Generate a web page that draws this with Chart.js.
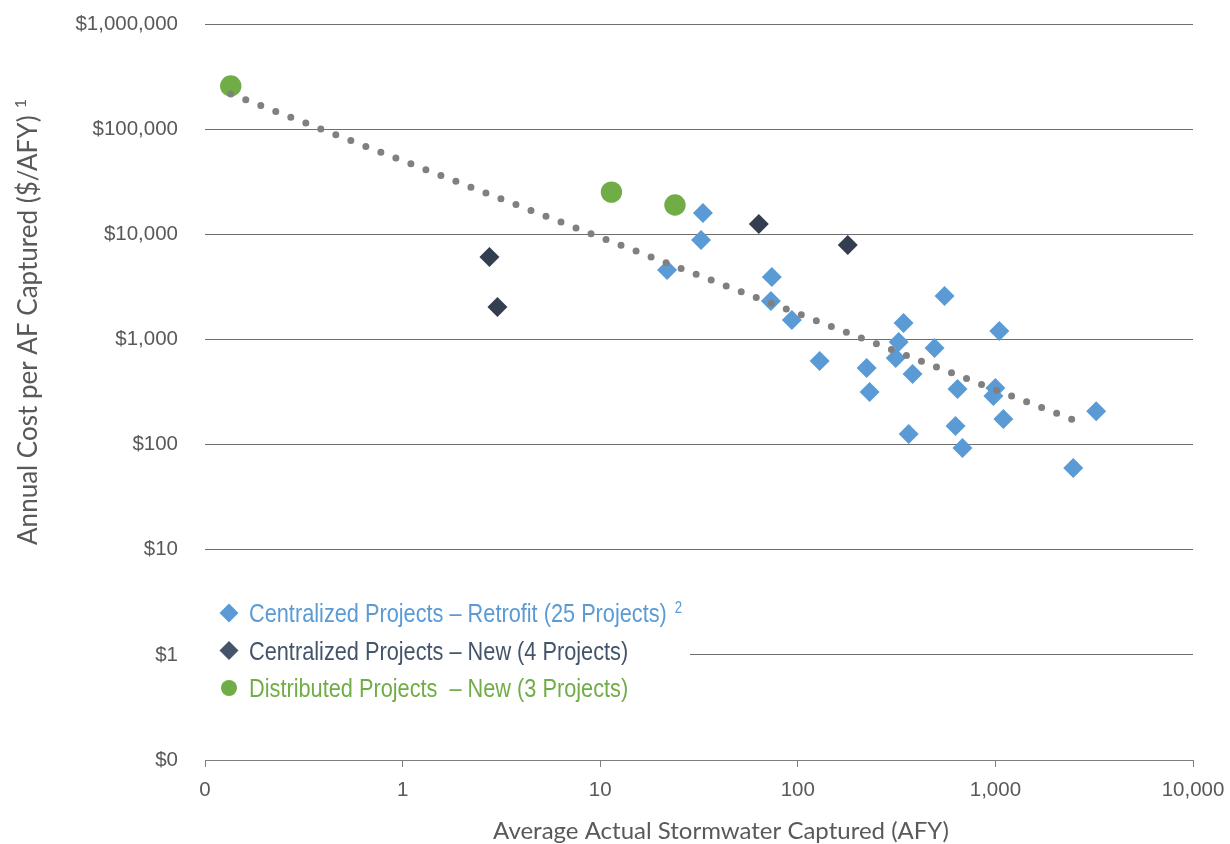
<!DOCTYPE html>
<html>
<head>
<meta charset="utf-8">
<script src="https://cdn.jsdelivr.net/npm/chart.js@4.4.1/dist/chart.umd.min.js"></script>
<style>
  html, body { margin: 0; padding: 0; background: #fff; }
  #wrap { width: 1230px; height: 844px; }
</style>
</head>
<body>
<div id="wrap"><canvas id="myChart" width="1230" height="844"></canvas></div>
<script>
// values (x = AFY, y = $/AFY)
var retrofitX = [33.1, 32.4, 21.8, 73.9, 73.1, 93.3, 129, 223, 231, 343, 324, 313, 381,
                 553, 492, 364, 643, 628, 681, 1047, 1000, 977, 1097, 3236, 2477];
var retrofitY = [15950, 8830, 4570, 3925, 2320, 1530, 624, 535, 316, 1433, 946, 666, 469,
                 2590, 829, 126, 338, 150, 93, 1203, 345, 290, 175, 208, 60];

var newX = [2.75, 3.02, 63.5, 179];
var newY = [6080, 2036, 12500, 7910];

var distX = [0.135, 11.4, 23.9];
var distY = [257000, 25200, 19000];

var trendX = [0.135, 9.33, 2813];
var trendY = [216000, 9850, 157];

var xTicks = [0.1, 1, 10, 100, 1000, 10000];
var xTickLabels = ["0", "1", "10", "100", "1,000", "10,000"];
var yTicks = [0.1, 1, 10, 100, 1000, 10000, 100000, 1000000];
var yTickLabels = ["$0", "$1", "$10", "$100", "$1,000", "$10,000", "$100,000", "$1,000,000"];

var legendLabels = ["Centralized Projects \u2013 Retrofit (25 Projects)",
                    "Centralized Projects \u2013 New (4 Projects)",
                    "Distributed Projects  \u2013 New (3 Projects)"];

var xTitle = "Average Actual Stormwater Captured (AFY)";
var yTitle = "Annual Cost per AF Captured ($/AFY)";

function toPoints(xs, ys) {
  var pts = [];
  for (var i = 0; i < xs.length; i++) {
    pts.push({ x: xs[i], y: ys[i] });
  }
  return pts;
}

var blue = "#5B9BD5";
var dark = "#333F50";
var green = "#70AD47";
var grey = "#595959";
var sans = "'Liberation Sans', Arial, sans-serif";
var titleFont = "Lato, 'Open Sans', sans-serif";

// text squeezed horizontally to look like a narrow face
function narrowText(ctx, text, x, y, squeeze) {
  ctx.save();
  ctx.translate(x, y);
  ctx.scale(squeeze, 1);
  ctx.fillText(text, 0, 0);
  var w = ctx.measureText(text).width * squeeze;
  ctx.restore();
  return w;
}

// legend box + axis titles drawn on the canvas
var extras = {
  id: "extras",
  afterDraw: function(chart) {
    var ctx = chart.ctx;
    var area = chart.chartArea;
    ctx.save();

    // legend sits inside the plot and hides part of the $1 gridline
    var lx = area.left, ly = 592;
    ctx.fillStyle = "#fff";
    ctx.fillRect(lx, ly, 485, 114);

    var rows = [622, 659.5, 697];
    var colors = [blue, "#44546A", green];
    ctx.textBaseline = "alphabetic";
    ctx.textAlign = "left";
    for (var i = 0; i < 3; i++) {
      var cy = rows[i] - 9;
      var cx = lx + 24;
      ctx.fillStyle = colors[i];
      ctx.beginPath();
      if (i < 2) {
        ctx.moveTo(cx - 9.5, cy);
        ctx.lineTo(cx, cy - 9.5);
        ctx.lineTo(cx + 9.5, cy);
        ctx.lineTo(cx, cy + 9.5);
        ctx.closePath();
      } else {
        ctx.arc(cx, cy, 8, 0, Math.PI * 2);
      }
      ctx.fill();
      ctx.font = "26.5px " + sans;
      var w = narrowText(ctx, legendLabels[i], lx + 44, rows[i], 0.82);
      if (i == 0) {
        ctx.font = "16px " + sans;
        narrowText(ctx, "2", lx + 44 + w + 8, rows[i] - 9, 0.82);
      }
    }

    // x axis title
    ctx.fillStyle = grey;
    ctx.font = "24px " + titleFont;
    ctx.textAlign = "center";
    ctx.textBaseline = "middle";
    ctx.fillText(xTitle, 721, 831);

    // y axis title, rotated, with superscript 1
    ctx.translate(29, 322);
    ctx.rotate(-Math.PI / 2);
    ctx.font = "26px " + titleFont;
    var tw = ctx.measureText(yTitle).width;
    ctx.font = "16px " + titleFont;
    var sw = ctx.measureText("1").width;
    var total = tw + 7 + sw;
    ctx.textAlign = "left";
    ctx.font = "26px " + titleFont;
    ctx.fillText(yTitle, -total / 2, 0);
    ctx.font = "16px " + titleFont;
    ctx.fillText("1", -total / 2 + tw + 7, -8);
    ctx.restore();
  }
};

var ctx = document.getElementById("myChart");

var chartData = {
  datasets: [
    {
      type: "line",
      label: "Trend",
      data: toPoints(trendX, trendY),
      borderColor: "#808080",
      borderWidth: 7,
      borderDash: [0, 16.1],
      borderCapStyle: "round",
      pointRadius: 0,
      fill: false,
      tension: 0
    },
    {
      label: legendLabels[0],
      data: toPoints(retrofitX, retrofitY),
      backgroundColor: blue,
      borderWidth: 0,
      pointStyle: "rectRot",
      pointRadius: 10
    },
    {
      label: legendLabels[1],
      data: toPoints(newX, newY),
      backgroundColor: dark,
      borderWidth: 0,
      pointStyle: "rectRot",
      pointRadius: 10
    },
    {
      label: legendLabels[2],
      data: toPoints(distX, distY),
      backgroundColor: green,
      borderWidth: 0,
      pointStyle: "circle",
      pointRadius: 10.7
    }
  ]
};

var options = {
  responsive: false,
  animation: false,
  devicePixelRatio: 1,
  layout: { autoPadding: false, padding: { left: 0, right: 37, top: 24, bottom: 0 } },
  plugins: {
    legend: { display: false },
    tooltip: { enabled: false }
  },
  scales: {
    x: {
      type: "logarithmic",
      min: 0.1,
      max: 10000,
      afterBuildTicks: function(scale) {
        scale.ticks = xTicks.map(function(v) { return { value: v }; });
      },
      afterFit: function(scale) {
        scale.height = 84;
        scale.paddingLeft = 0;
        scale.paddingRight = 0;
      },
      ticks: {
        padding: 11,
        color: grey,
        font: { family: sans, size: 20.5 },
        maxRotation: 0,
        autoSkip: false,
        callback: function(value) {
          var i = xTicks.indexOf(value);
          return i >= 0 ? xTickLabels[i] : "";
        }
      },
      grid: {
        drawOnChartArea: false,
        drawTicks: true,
        tickLength: 7,
        tickColor: "#7F7F7F",
        color: "#7F7F7F"
      },
      border: { display: true, color: "#7F7F7F", width: 1 }
    },
    y: {
      type: "logarithmic",
      min: 0.1,
      max: 1000000,
      afterBuildTicks: function(scale) {
        scale.ticks = yTicks.map(function(v) { return { value: v }; });
      },
      afterFit: function(scale) {
        scale.width = 205;
        scale.paddingTop = 0;
        scale.paddingBottom = 0;
      },
      ticks: {
        padding: 27,
        color: grey,
        font: { family: sans, size: 20.5 },
        autoSkip: false,
        callback: function(value) {
          var i = yTicks.indexOf(value);
          return i >= 0 ? yTickLabels[i] : "";
        }
      },
      grid: {
        drawTicks: false,
        color: "#6F6F6F",
        lineWidth: 1
      },
      border: { display: false }
    }
  }
};

var chart = new Chart(ctx, {
  type: "scatter",
  data: chartData,
  options: options,
  plugins: [extras]
});
</script>
</body>
</html>
